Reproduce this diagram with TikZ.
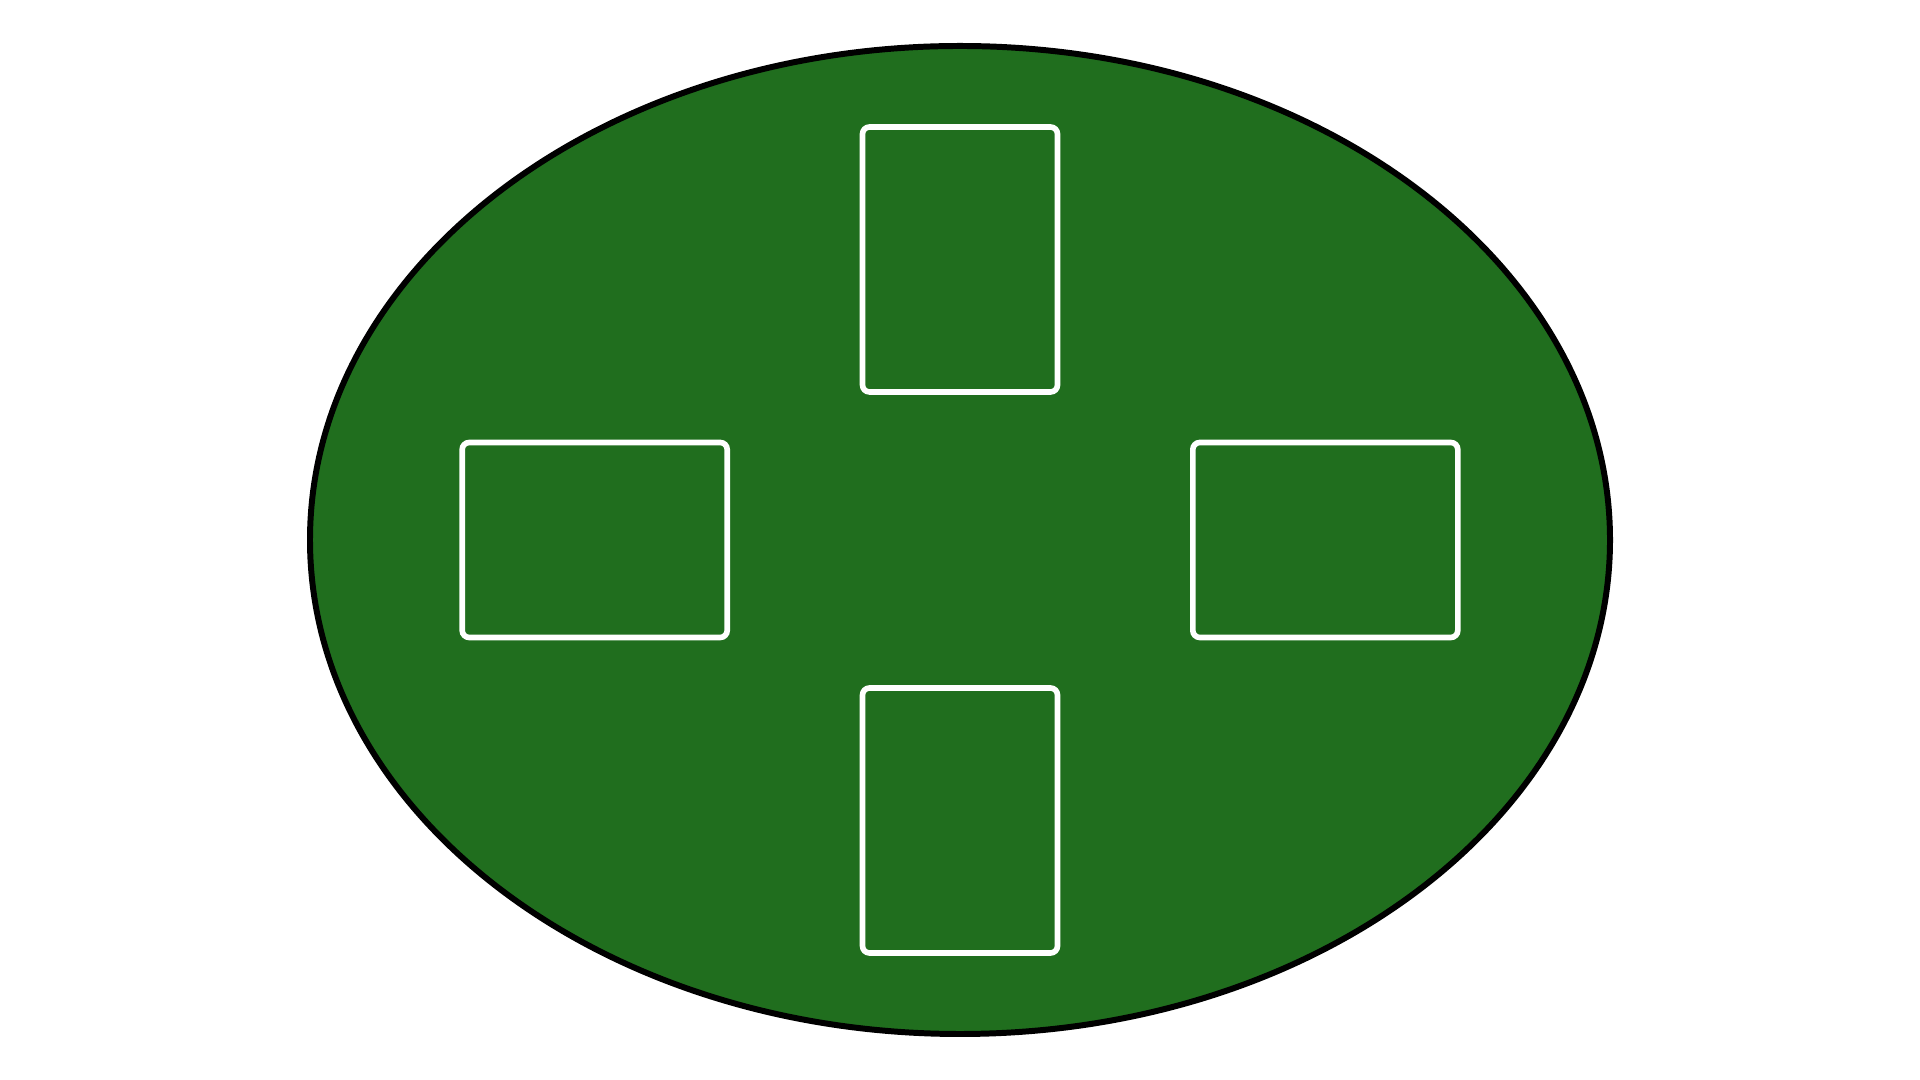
\documentclass[tikz,border=0pt]{standalone}
\usepackage{tikz}
\usetikzlibrary{positioning, calc}

\definecolor{felt}{RGB}{32,110,30}

\tikzset{
  card/.style={draw=white, line width=3.2pt, rounded corners=4pt, inner sep=0pt},
  upright/.style={card, minimum width=3.9cm, minimum height=5.3cm},
  sideways/.style={card, minimum width=5.3cm, minimum height=3.9cm}
}

\begin{document}
\begin{tikzpicture}
\useasboundingbox (0,0) rectangle (38.4,21.6);

% Table
\coordinate (mid) at (19.2,10.8);
\filldraw[fill=felt, draw=black, line width=3.4pt] (mid) ellipse [x radius=13cm, y radius=9.88cm];

% Card spots
\node[upright] (north) at ($(mid)+(0,5.61)$) {};
\node[upright] (south) at ($(mid)+(0,-5.61)$) {};
\node[sideways] (west) at ($(mid)+(-7.306,0)$) {};
\node[sideways] (east) at ($(mid)+(7.306,0)$) {};
\end{tikzpicture}
\end{document}
